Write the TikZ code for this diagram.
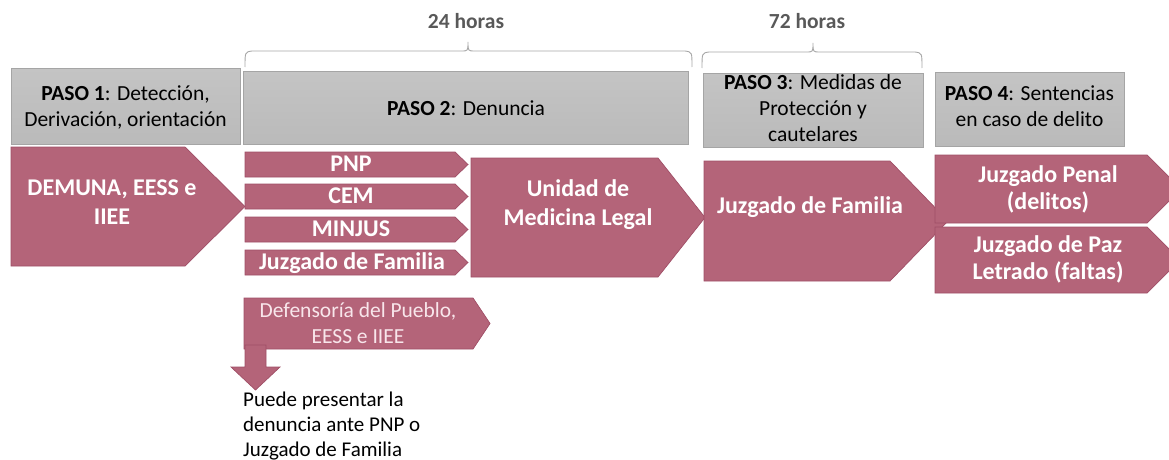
\documentclass[tikz,border=0pt]{standalone}
\usepackage{fontspec}
\setmainfont{Carlito}
\definecolor{pkfill}{RGB}{180,100,121}
\definecolor{pkline}{RGB}{160,78,102}
\definecolor{gbord}{RGB}{165,165,165}
\definecolor{gtop}{RGB}{196,196,196}
\definecolor{gbot}{RGB}{186,186,186}
\definecolor{brc}{RGB}{166,166,166}
\definecolor{hrs}{RGB}{89,89,89}
\definecolor{deftxt}{RGB}{248,230,235}
\newcommand\chev[5]{\path[pkshape] (#1,#2) -- (#4,#2) -- (#5,{(#2+#3)/2}) -- (#4,#3) -- (#1,#3) -- cycle;}
\tikzset{
  x=1pt,y=-1pt,
  pkshape/.style={fill=pkfill,draw=pkline,line width=0.7pt,line join=miter},
  graybox/.style={draw=gbord,line width=0.8pt,top color=gtop,bottom color=gbot},
  hdr/.style={inner sep=0pt,align=center,text=black,font=\fontsize{21.5}{26}\selectfont},
  pktxt/.style={inner sep=0pt,align=center,text=white,font=\fontsize{24}{29}\selectfont\bfseries},
  pkone/.style={inner sep=0pt,anchor=base,text=white,font=\fontsize{24}{29}\selectfont\bfseries},
  hrstxt/.style={inner sep=0pt,anchor=base,text=hrs,font=\fontsize{21.5}{26}\selectfont\bfseries},
  bracepath/.style={draw=brc,line width=0.9pt}
}
\begin{document}
\begin{tikzpicture}
\useasboundingbox (0,0) rectangle (1169,460);
\clip (0,0) rectangle (1169,460);

% braces and durations
\draw[bracepath] (245,67) .. controls (245,52) .. (252,51) -- (461,51) .. controls (468,51) .. (468,42) .. controls (468,51) .. (475,51) -- (685,51) .. controls (692,52) .. (692,67);
\draw[bracepath] (702,68) .. controls (702,53) .. (709,52) -- (806,52) .. controls (813,52) .. (813,43) .. controls (813,52) .. (820,52) -- (915,52) .. controls (922,53) .. (922,68);
\node[hrstxt] (h24) at (466,29) {24 horas};
\node[hrstxt] (h72) at (807,29) {72 horas};

% header boxes
\path[graybox] (11,68) rectangle (240,144);
\path[graybox] (243,71) rectangle (688,144);
\path[graybox] (703,73) rectangle (923,147);
\path[graybox] (935,72) rectangle (1124,146);
\node[hdr] (p1) at (125.5,108.5) {\strut\textbf{PASO 1}: Detección,\\\strut Derivación, orientación};
\node[hdr] (p2) at (466,110) {\strut\textbf{PASO 2}: Denuncia};
\node[hdr] (p3) at (813,110.5) {\strut\textbf{PASO 3}: Medidas de\\\strut Protección y\\\strut cautelares};
\node[hdr] (p4) at (1029.5,108.5) {\strut\textbf{PASO 4}: Sentencias\\\strut en caso de delito};

% pink chevrons
\chev{11}{147}{266}{185}{245}
\chev{245}{152}{177}{455}{468}
\chev{245}{184}{209}{455}{468}
\chev{245}{217}{242}{455}{468}
\chev{245}{250}{275}{455}{468}
\chev{471}{158}{277}{658}{705}
\chev{704}{161}{281}{890}{948}
\chev{935}{155}{223}{1147}{1181}
\chev{935}{227}{293}{1147}{1180}
\chev{244}{298}{349}{473}{490}

% down arrow
\path[pkshape] (245,345) -- (266,345) -- (266,367) -- (280,367) -- (255.5,390) -- (231,367) -- (245,367) -- cycle;

% texts
\node[pktxt] (demuna) at (112,204) {\strut DEMUNA, EESS e\\\strut IIEE};
\node[pkone] (pnp) at (351,171) {PNP};
\node[pkone] (cem) at (351,203) {CEM};
\node[pkone] (minjus) at (351,236) {MINJUS};
\node[pkone] (jf1) at (352,269) {Juzgado de Familia};
\node[pktxt] (uml) at (578,205.5) {\strut Unidad de\\\strut Medicina Legal};
\node[pkone] (jf2) at (810,213) {Juzgado de Familia};
\node[pktxt,font=\fontsize{24}{27}\selectfont\bfseries] (jpen) at (1048,191) {\strut Juzgado Penal\\\strut (delitos)};
\node[pktxt,font=\fontsize{24}{27}\selectfont\bfseries] (jpaz) at (1048,261) {\strut Juzgado de Paz\\\strut Letrado (faltas)};
\node[inner sep=0pt,align=center,text=deftxt,font=\fontsize{21.5}{26}\selectfont] (def) at (358,325) {\strut Defensoría del Pueblo,\\\strut EESS e IIEE};
\node[inner sep=0pt,align=left,anchor=north west,text=black,font=\fontsize{21}{25}\selectfont] (puede) at (243,389) {\strut Puede presentar la\\\strut denuncia ante PNP o\\\strut Juzgado de Familia};
\end{tikzpicture}
\end{document}
